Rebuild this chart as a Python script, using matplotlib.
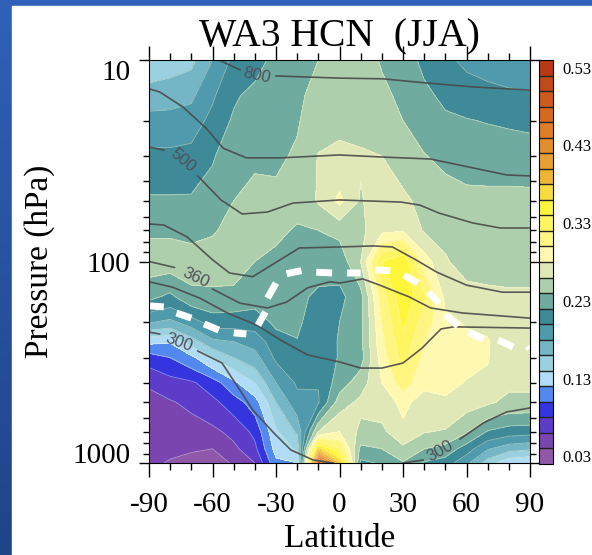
"""
WA3 HCN (JJA) zonal mean cross section with isentropes and tropopause.
"""
import numpy as np
import matplotlib
matplotlib.use("Agg")
import matplotlib.pyplot as plt
from matplotlib.colors import LinearSegmentedColormap
from matplotlib.patches import Rectangle

plt.rcParams['font.family'] = ['Liberation Serif', 'DejaVu Serif']
plt.rcParams['axes.unicode_minus'] = False

lats = [-90, -80, -70, -60, -50, -40, -30, -20, -10, 0, 10, 20, 30, 40, 50, 60, 70, 80, 90]
pressures = [10, 15, 20, 30, 50, 70, 100, 150, 200, 250, 300, 400, 500, 700, 850, 1000]

# one profile per latitude, top (10 hPa) to bottom (1000 hPa)
hcn_by_lat = [
    [.145, .170, .187, .205, .223, .237, .250, .225, .182, .125, .090, .062, .055, .050, .048, .045],
    [.150, .172, .187, .205, .223, .237, .250, .215, .175, .122, .100, .072, .058, .050, .045, .038],
    [.155, .176, .190, .207, .223, .235, .248, .235, .190, .150, .115, .077, .065, .050, .042, .034],
    [.180, .197, .206, .218, .230, .238, .250, .235, .210, .175, .140, .090, .075, .055, .040, .032],
    [.205, .217, .223, .232, .240, .246, .250, .234, .209, .180, .160, .115, .090, .066, .055, .042],
    [.212, .226, .231, .237, .246, .249, .240, .228, .210, .188, .172, .140, .110, .085, .075, .060],
    [.226, .230, .232, .236, .246, .244, .235, .228, .224, .212, .204, .180, .160, .137, .128, .115],
    [.232, .236, .238, .243, .246, .238, .232, .226, .224, .219, .213, .203, .193, .163, .143, .120],
    [.240, .247, .252, .261, .262, .240, .230, .215, .208, .205, .203, .201, .198, .260, .370, .500],
    [.250, .252, .255, .265, .285, .245, .228, .215, .220, .222, .222, .230, .250, .280, .320, .380],
    [.250, .252, .255, .262, .258, .255, .260, .232, .233, .235, .232, .250, .265, .255, .235, .215],
    [.238, .245, .250, .260, .272, .275, .340, .310, .300, .295, .290, .280, .270, .255, .240, .222],
    [.230, .235, .240, .250, .265, .278, .360, .355, .345, .335, .328, .310, .285, .275, .255, .238],
    [.215, .225, .231, .241, .253, .258, .290, .325, .310, .300, .295, .285, .272, .261, .240, .218],
    [.205, .215, .224, .235, .250, .255, .262, .275, .285, .287, .287, .285, .277, .258, .233, .210],
    [.195, .212, .221, .233, .245, .250, .252, .268, .278, .285, .285, .279, .268, .242, .210, .185],
    [.190, .208, .219, .232, .245, .250, .252, .265, .277, .281, .281, .277, .263, .218, .182, .150],
    [.185, .205, .217, .232, .245, .250, .253, .263, .267, .268, .267, .264, .255, .210, .168, .125],
    [.180, .204, .215, .231, .245, .250, .253, .263, .267, .268, .267, .264, .255, .208, .163, .120],
]

# band colours, lowest band (0.03) first
band_colors = ['#9058A8', '#7B45B0', '#5C3CC8', '#3535E0', '#5288F0', '#B0DCF8', '#9BD0E0',
               '#74B6C6', '#4F9BAD', '#3E8A98', '#6FAB9E', '#AECFAC', '#E1E8B8', '#FFF8B0',
               '#FFF580', '#FFF560', '#FFF63C', '#F6DC3C', '#EFB635', '#E9A030', '#E38E2C',
               '#E07E28', '#D66A20', '#CC5C1C', '#C04A18', '#B83A14']
cbar_ticks = [0.03, 0.13, 0.23, 0.33, 0.43, 0.53]

# isentropes as (lat, pressure), nan leaves the gap for the inline label
theta_800_lat = [-57, -47, np.nan, -30, 0, 20.5, 41, 63, 90]
theta_800_p = [10, 11.2, np.nan, 12, 12.3, 12.4, 13, 13.6, 14.1]
theta_650_lat = [-90, -85, -74, -63, -55, -44, -28, 0, 20, 43, 63, 79, 90]
theta_650_p = [13.9, 14.4, 17.1, 21.8, 27.4, 30.6, 30.6, 29.6, 30.3, 31, 34.3, 37.2, 37.6]
theta_500_lat = [-90, -83, np.nan, -67, -56, -46, -34, -22, 0, 29, 38, 47, 63, 76, 90]
theta_500_p = [27, 28, np.nan, 37.6, 49.5, 58.1, 56.8, 51.3, 49.5, 50.7, 52.5, 57.5, 64.4, 68.2, 68.2]
theta_420_lat = [-90, -83, -72, -60, -52, -41, -28, -19, 0, 16, 25, 36, 46, 60, 77, 90]
theta_420_p = [65.1, 65.9, 75.5, 98, 114, 119, 98, 85.7, 84.7, 83.7, 84.7, 98, 113, 131, 142, 142]
theta_360_lat = [-90, -78, np.nan, -60, -47, -34, -25, -15, -4.5, 0, 11, 19, 33, 43, 58, 90]
theta_360_p = [100, 107, np.nan, 137, 161, 170, 159, 135, 126, 128, 122, 131, 150, 170, 180, 191]
theta_330_lat = [-90, -79, -66, -53, -39, -28, -15, 0, 10, 20, 30, 39, 48, 54, 90]
theta_330_p = [126, 134, 152, 180, 207, 245, 291, 315, 338, 338, 319, 269, 216, 211, 214]
theta_300_lat = [-90, -85, np.nan, -67, -55.5, -48, -41, -31, -23, -12.5, -3, np.nan, 57, 68, 79, 90]
theta_300_p = [224, 229, np.nan, 278, 319, 420, 546, 710, 861, 966, 1000, np.nan, 760, 632, 558, 533]
theta_lines = [(theta_800_lat, theta_800_p), (theta_650_lat, theta_650_p), (theta_500_lat, theta_500_p),
               (theta_420_lat, theta_420_p), (theta_360_lat, theta_360_p), (theta_330_lat, theta_330_p),
               (theta_300_lat, theta_300_p)]
theta_300_low_lat = [30, 39.5]
theta_300_low_p = [1000, 966]

# (text, lat, pressure, angle)
theta_labels = [('800', -39, 11.9, -12), ('500', -74, 31.4, -40), ('360', -68, 121, -25),
                ('300', -76, 251, -20), ('300', 47.5, 871, 30)]

# tropopause dashes, one pair per dash
tropo_lat = [-90, -83, np.nan, -77, -70, np.nan, -64, -57, np.nan, -50, -44, np.nan, -38.5, -35, np.nan,
             -34, -30, np.nan, -25, -18, np.nan, -11, -3.5, np.nan, 3.5, 10, np.nan, 17, 24, np.nan,
             30.5, 37, np.nan, 42, 47, np.nan, 50, 56, np.nan, 61, 68, np.nan, 75, 82, np.nan, 89, 90]
tropo_p = [166, 168, np.nan, 180, 191, np.nan, 204, 219, np.nan, 226, 229, np.nan, 207, 178, np.nan,
           152, 128, np.nan, 115, 111, np.nan, 113, 114, np.nan, 114, 114, np.nan, 110, 111, np.nan,
           117, 128, np.nan, 142, 161, np.nan, 184, 209, np.nan, 224, 243, np.nan, 245, 266, np.nan, 262, 272]

W, H = 592, 555
fig = plt.figure(figsize=(W / 100, H / 100), dpi=100, facecolor='white')

# blue slide background behind the white panel, darker towards the bottom
ax_bg = fig.add_axes([0, 0, 1, 1], zorder=-3)
slide_cmap = LinearSegmentedColormap.from_list('slide', ['#3060B8', '#1F4488'])
ax_bg.imshow(np.linspace(0, 1, 64).reshape(-1, 1), cmap=slide_cmap, aspect='auto')
ax_bg.axis('off')
fig.add_artist(Rectangle((12 / W, 0), 1, 1 - 6 / H, transform=fig.transFigure, color='white', zorder=-2))

ax = fig.add_axes([149 / W, 1 - 463 / H, 381 / W, 403 / H])
levels = np.linspace(0.02, 0.54, 27)
hcn = np.array(hcn_by_lat).T
cf = ax.contourf(lats, pressures, hcn, levels=levels, colors=band_colors)
ax.contour(lats, pressures, hcn, levels=levels, colors='#FFFFE0', linewidths=0.6, alpha=0.45)

for lat_line, p_line in theta_lines:
    ax.plot(lat_line, p_line, color='#4A4A4A', lw=1.2, alpha=0.9)
ax.plot(theta_300_low_lat, theta_300_low_p, color='#4A4A4A', lw=1.2, alpha=0.9)
for txt, lat, p, angle in theta_labels:
    ax.text(lat, p, txt, family='Liberation Sans', fontsize=12, color='#50505A', rotation=angle,
            ha='center', va='center', rotation_mode='anchor')

ax.plot(tropo_lat, tropo_p, color='white', lw=5, solid_capstyle='butt')

ax.set_yscale('log')
ax.set_xlim(-90, 90)
ax.set_ylim(1000, 10)
ax.set_xticks([-90, -60, -30, 0, 30, 60, 90])
ax.set_xticks(np.arange(-90, 91, 10), minor=True)
ax.set_yticks([10, 100, 1000])
ax.set_yticklabels(['10', '100', '1000'])
ax.tick_params(axis='x', which='major', length=10, width=1, top=True, labelsize=21, pad=11)
ax.tick_params(axis='x', which='minor', length=5, width=1, top=True)
ax.tick_params(axis='y', which='major', length=7.5, width=1, right=True, labelsize=21, pad=6)
ax.tick_params(axis='y', which='minor', length=4.5, width=1, right=True)
# end labels sit inside the axis range
ax.get_yticklabels()[0].set_va('top')
ax.get_yticklabels()[2].set_va('baseline')
ax.set_xlabel('Latitude', fontsize=24, labelpad=4)
ax.set_ylabel('Pressure (hPa)', fontsize=24, labelpad=12)
ax.set_title('WA3 HCN  (JJA)', fontsize=28.5, pad=10)

cax = fig.add_axes([539 / W, 1 - 464 / H, 14 / W, 404 / H])
cb = fig.colorbar(cf, cax=cax, drawedges=True, ticks=cbar_ticks)
cb.ax.set_yticklabels(['%.2f' % t for t in cbar_ticks])
cb.ax.tick_params(length=0, labelsize=12, pad=7)
cb.dividers.set_color('#222222')
cb.dividers.set_linewidth(1)

fig.savefig('out.png', dpi=100)
